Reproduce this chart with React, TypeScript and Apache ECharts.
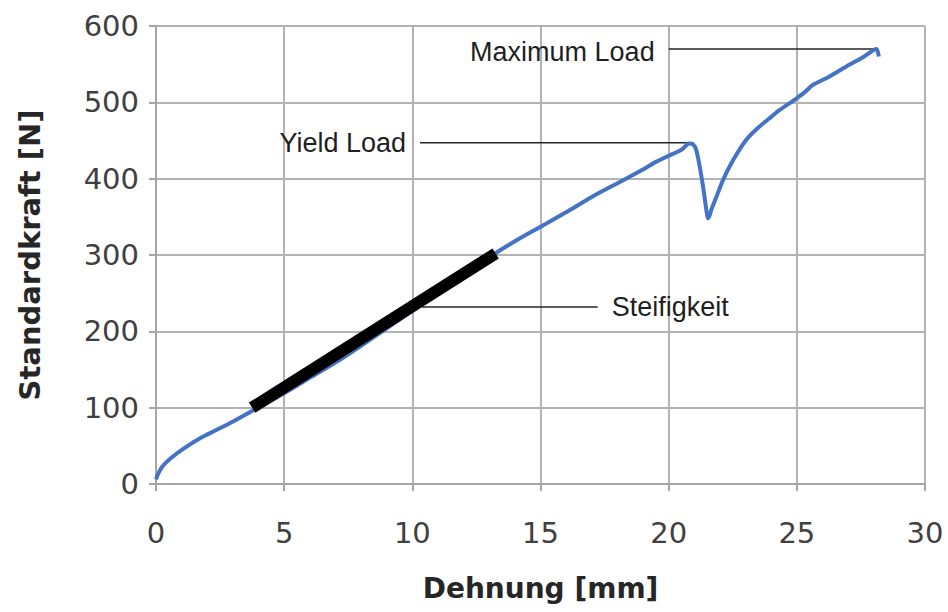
import React, { useEffect, useRef } from "react";
import * as echarts from "echarts";

// Measured curve: Dehnung [mm] vs Standardkraft [N]
const strainMm = [0, 0.08, 0.25, 0.55, 1.06, 1.72, 2.37, 3.01, 3.66, 4.3, 5.0, 6.0, 7.0, 8.0, 9.0, 10.0, 11.0, 12.0, 13.0, 14.0, 15.0, 16.0, 17.0, 18.0, 19.0, 19.5, 20.0, 20.5, 20.8, 20.95, 21.08, 21.21, 21.34, 21.47, 21.53, 21.6, 21.66, 21.86, 22.12, 22.51, 23.03, 23.5, 24.0, 24.33, 24.98, 25.3, 25.63, 26.28, 26.93, 27.58, 28.1, 28.2];
const forceN = [6, 13, 23, 33, 46, 60, 71, 82, 94, 106, 119, 139, 159, 181, 204, 227, 250, 274, 297, 318, 337, 356, 376, 394, 412, 422, 430, 438, 446, 445, 437, 416, 390, 359, 348, 352, 359, 376, 398, 424, 451, 467, 481, 490, 505, 513, 523, 534, 547, 559, 570, 560];

// Stiffness (Steifigkeit) fitted line endpoints
const stiffnessX = [3.75, 13.25];
const stiffnessY = [100, 302];

// Annotations: label, x-range of leader line, y level, label side
const annotationLabels = ["Maximum Load", "Yield Load", "Steifigkeit"];
const annotationX1 = [20.0, 10.3, 10.37];
const annotationX2 = [28.1, 20.82, 17.23];
const annotationY = [570, 447, 232];
const annotationSide = ["left", "left", "right"];

const xTicks = { min: 0, max: 30, interval: 5 };
const yTicks = { min: 0, max: 600, interval: 100 };

export default function App() {
  const ref = useRef<HTMLDivElement>(null);
  useEffect(() => {
    if (!ref.current) return;
    const chart = echarts.init(ref.current, null, { renderer: "svg" });
    const curve = strainMm.map((x, i) => [x, forceN[i]]);
    const stiff = stiffnessX.map((x, i) => [x, stiffnessY[i]]);
    const annoSeries = annotationLabels.map((lab, i) => {
      const left = annotationSide[i] === "left";
      const labelCfg = {
        show: true,
        formatter: lab,
        position: left ? "left" : "right",
        distance: 14,
        offset: [0, i === 0 ? 3 : 0],
        fontFamily: "Liberation Sans",
        fontSize: 27,
        color: "#1f1f1f",
      };
      return {
        type: "line",
        silent: true,
        showSymbol: true,
        symbol: "circle",
        symbolSize: 0.01,
        itemStyle: { color: "#262626" },
        lineStyle: { color: "#262626", width: 1.5 },
        z: 1,
        data: [
          { value: [annotationX1[i], annotationY[i]], label: left ? labelCfg : { show: false } },
          { value: [annotationX2[i], annotationY[i]], label: left ? { show: false } : labelCfg },
        ],
      };
    });
    const axisLabelStyle = {
      fontFamily: "DejaVu Sans",
      fontSize: 29,
      color: "#404040",
    };
    chart.setOption({
      animation: false,
      backgroundColor: "#ffffff",
      grid: { left: 156, right: 23, top: 26, bottom: 128, containLabel: false },
      xAxis: {
        type: "value",
        ...xTicks,
        name: "Dehnung [mm]",
        nameLocation: "middle",
        nameGap: 90,
        nameTextStyle: { fontFamily: "DejaVu Sans", fontWeight: "bold", fontSize: 28, color: "#262626" },
        axisLine: { show: true, lineStyle: { color: "#A6A6A6", width: 2 } },
        axisTick: { show: true, inside: false, length: 7, lineStyle: { color: "#A6A6A6", width: 2 } },
        axisLabel: { ...axisLabelStyle, margin: 34 },
        splitLine: { show: true, lineStyle: { color: "#B3B3B3", width: 2 } },
      },
      yAxis: {
        type: "value",
        ...yTicks,
        name: "Standardkraft [N]",
        nameLocation: "middle",
        nameGap: 112,
        nameTextStyle: { fontFamily: "DejaVu Sans", fontWeight: "bold", fontSize: 29, color: "#262626" },
        axisLine: { show: true, lineStyle: { color: "#A6A6A6", width: 2 } },
        axisTick: { show: true, inside: false, length: 7, lineStyle: { color: "#A6A6A6", width: 2 } },
        axisLabel: { ...axisLabelStyle, margin: 17 },
        splitLine: { show: true, lineStyle: { color: "#B3B3B3", width: 2 } },
      },
      series: [
        ...annoSeries,
        {
          type: "line",
          name: "Kurve",
          data: curve,
          showSymbol: false,
          smooth: 0.25,
          lineStyle: { color: "#4472C4", width: 4 },
          z: 2,
        },
        {
          type: "line",
          name: "Steifigkeit",
          data: stiff,
          showSymbol: false,
          lineStyle: { color: "#000000", width: 12, cap: "butt" },
          z: 3,
        },
      ],
    });
    return () => chart.dispose();
  }, []);
  return (
    <div
      ref={ref}
      style={{ position: "fixed", left: 0, top: 0, width: 948, height: 612, background: "#fff" }}
    />
  );
}
